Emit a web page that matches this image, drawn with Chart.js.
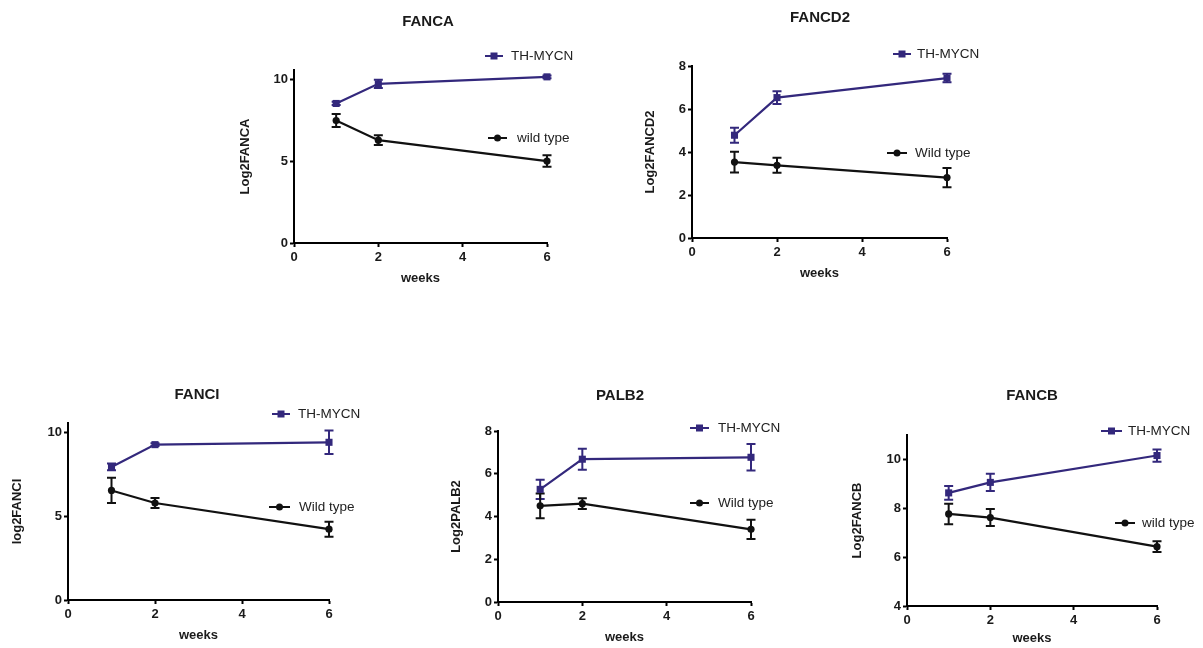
<!DOCTYPE html>
<html>
<head>
<meta charset="utf-8">
<script src="https://cdn.jsdelivr.net/npm/chart.js@4/dist/chart.umd.min.js"></script>
<style>
  body { margin: 0; background: #fff; width: 1203px; height: 648px; overflow: hidden; position: relative; }
  canvas { position: absolute; }
</style>
</head>
<body>
<script>
// data
const weeks = [1, 2, 6];

const fancaMycn = [8.55, 9.75, 10.18];
const fancaMycnErr = [0.1, 0.25, 0.08];
const fancaWild = [7.5, 6.3, 5.02];
const fancaWildErr = [0.4, 0.3, 0.35];

const fancd2Mycn = [4.78, 6.53, 7.44];
const fancd2MycnErr = [0.35, 0.3, 0.2];
const fancd2Wild = [3.53, 3.38, 2.81];
const fancd2WildErr = [0.48, 0.35, 0.45];

const fanciMycn = [7.93, 9.26, 9.4];
const fanciMycnErr = [0.2, 0.08, 0.7];
const fanciWild = [6.53, 5.78, 4.22];
const fanciWildErr = [0.75, 0.3, 0.45];

const palb2Mycn = [5.27, 6.68, 6.77];
const palb2MycnErr = [0.45, 0.49, 0.62];
const palb2Wild = [4.5, 4.6, 3.4];
const palb2WildErr = [0.58, 0.25, 0.45];

const fancbMycn = [8.63, 9.06, 10.16];
const fancbMycnErr = [0.28, 0.35, 0.25];
const fancbWild = [7.77, 7.62, 6.43];
const fancbWildErr = [0.42, 0.35, 0.22];

const xTicks = [0, 2, 4, 6];

const MYCN = '#33287c';
const BLACK = '#111111';
const FONT = 'Arial, "Liberation Sans", sans-serif';

// panel layout (page pixels): plot rect, title, legends
const panels = [
  { title: 'FANCA', ylabel: 'Log2FANCA', wildLabel: 'wild type',
    mycn: fancaMycn, mycnErr: fancaMycnErr, wild: fancaWild, wildErr: fancaWildErr,
    ymin: 0, ymax: 10.6, ystep: 5,
    l: 294, r: 547, t: 70, b: 243, yOff: 49, xOff: 35,
    titleX: 428, titleY: 22,
    legMycn: [485, 503, 511, 56], legWild: [488, 507, 517, 138] },
  { title: 'FANCD2', ylabel: 'Log2FANCD2', wildLabel: 'Wild type',
    mycn: fancd2Mycn, mycnErr: fancd2MycnErr, wild: fancd2Wild, wildErr: fancd2WildErr,
    ymin: 0, ymax: 8, ystep: 2,
    l: 692, r: 947, t: 66, b: 238, yOff: 42, xOff: 35,
    titleX: 820, titleY: 18,
    legMycn: [893, 911, 917, 54], legWild: [887, 907, 915, 153] },
  { title: 'FANCI', ylabel: 'log2FANCI', wildLabel: 'Wild type',
    mycn: fanciMycn, mycnErr: fanciMycnErr, wild: fanciWild, wildErr: fanciWildErr,
    ymin: 0, ymax: 10.55, ystep: 5,
    l: 68, r: 329, t: 423, b: 600, yOff: 51, xOff: 35,
    titleX: 197, titleY: 395,
    legMycn: [272, 290, 298, 414], legWild: [269, 290, 299, 507] },
  { title: 'PALB2', ylabel: 'Log2PALB2', wildLabel: 'Wild type',
    mycn: palb2Mycn, mycnErr: palb2MycnErr, wild: palb2Wild, wildErr: palb2WildErr,
    ymin: 0, ymax: 8, ystep: 2,
    l: 498, r: 751, t: 431, b: 602, yOff: 41.5, xOff: 35,
    titleX: 620, titleY: 396,
    legMycn: [690, 709, 718, 428], legWild: [690, 709, 718, 503] },
  { title: 'FANCB', ylabel: 'Log2FANCB', wildLabel: 'wild type',
    mycn: fancbMycn, mycnErr: fancbMycnErr, wild: fancbWild, wildErr: fancbWildErr,
    ymin: 4, ymax: 11, ystep: 2,
    l: 907, r: 1157, t: 435, b: 606, yOff: 50, xOff: 32,
    titleX: 1032, titleY: 396,
    legMycn: [1101, 1122, 1128, 431], legWild: [1115, 1135, 1142, 523] }
];

function drawMarker(ctx, style, x, y, color) {
  ctx.fillStyle = color;
  if (style === 'rect') {
    ctx.fillRect(x - 3.5, y - 3.5, 7, 7);
  } else {
    ctx.beginPath();
    ctx.arc(x, y, 3.5, 0, Math.PI * 2);
    ctx.fill();
  }
}

// error bars, titles and legends
const extras = {
  id: 'extras',
  beforeDatasetsDraw(chart) {
    const ctx = chart.ctx;
    const xs = chart.scales.x, ys = chart.scales.y;
    ctx.save();
    chart.data.datasets.forEach(ds => {
      ctx.strokeStyle = ds.borderColor;
      ctx.lineWidth = 2;
      ds.data.forEach((p, i) => {
        const e = ds.errors[i];
        const px = xs.getPixelForValue(p.x);
        const y1 = ys.getPixelForValue(p.y - e);
        const y2 = ys.getPixelForValue(p.y + e);
        ctx.beginPath();
        ctx.moveTo(px, y1); ctx.lineTo(px, y2);
        ctx.moveTo(px - 4.5, y1); ctx.lineTo(px + 4.5, y1);
        ctx.moveTo(px - 4.5, y2); ctx.lineTo(px + 4.5, y2);
        ctx.stroke();
      });
    });
    ctx.restore();
  },
  afterDraw(chart) {
    const o = chart.options.plugins.extras;
    const ctx = chart.ctx;
    ctx.save();
    ctx.fillStyle = '#1a1a1a';
    ctx.font = 'bold 15px ' + FONT;
    ctx.textAlign = 'center';
    ctx.textBaseline = 'middle';
    ctx.fillText(o.title, o.titleX - o.cx, o.titleY - o.cy);
    o.legends.forEach(lg => {
      const [x1, x2, tx, y] = lg.pos;
      ctx.strokeStyle = lg.color;
      ctx.lineWidth = 2;
      ctx.beginPath();
      ctx.moveTo(x1 - o.cx, y - o.cy);
      ctx.lineTo(x2 - o.cx, y - o.cy);
      ctx.stroke();
      drawMarker(ctx, lg.style, (x1 + x2) / 2 - o.cx, y - o.cy, lg.color);
      ctx.fillStyle = '#222';
      ctx.font = '13.5px ' + FONT;
      ctx.textAlign = 'left';
      ctx.fillText(lg.label, tx - o.cx, y - o.cy);
    });
    ctx.restore();
  }
};

panels.forEach(p => {
  const YW = p.yOff + 7.8;
  const XH = p.xOff + 7.8;
  const cx = p.l - 75;
  const cy = Math.max(0, p.t - 75);
  const cr = Math.min(1203, p.r + 90);
  const cb = Math.min(648, p.b + 48);

  const canvas = document.createElement('canvas');
  canvas.width = cr - cx;
  canvas.height = cb - cy;
  canvas.style.left = cx + 'px';
  canvas.style.top = cy + 'px';
  document.body.appendChild(canvas);

  const pts = vals => weeks.map((w, i) => ({ x: w, y: vals[i] }));

  const axisCommon = {
    border: { display: true, color: '#000', width: 2 },
    grid: { display: true, drawOnChartArea: false, drawTicks: true, tickLength: 4, tickWidth: 2, tickColor: '#000', color: '#000' },
  };

  new Chart(canvas, {
    type: 'line',
    data: {
      datasets: [
        { label: 'TH-MYCN', data: pts(p.mycn), errors: p.mycnErr, clip: false,
          borderColor: MYCN, backgroundColor: MYCN, borderWidth: 2.2,
          pointStyle: 'rect', pointRadius: 5, pointBorderWidth: 0, tension: 0 },
        { label: p.wildLabel, data: pts(p.wild), errors: p.wildErr, clip: false,
          borderColor: BLACK, backgroundColor: BLACK, borderWidth: 2.2,
          pointStyle: 'circle', pointRadius: 3.6, pointBorderWidth: 0, tension: 0 }
      ]
    },
    options: {
      responsive: false,
      animation: false,
      devicePixelRatio: 1,
      layout: {
        padding: { left: p.l - cx - YW, top: p.t - cy, right: cr - p.r, bottom: cb - p.b - XH }
      },
      plugins: {
        legend: { display: false },
        title: { display: false },
        tooltip: { enabled: false },
        extras: {
          cx, cy, title: p.title, titleX: p.titleX, titleY: p.titleY,
          legends: [
            { label: 'TH-MYCN', color: MYCN, style: 'rect', pos: p.legMycn },
            { label: p.wildLabel, color: BLACK, style: 'circle', pos: p.legWild }
          ]
        }
      },
      scales: {
        x: {
          type: 'linear', min: 0, max: 6,
          ...axisCommon,
          afterFit: s => { s.height = XH; },
          afterBuildTicks: s => { s.ticks = xTicks.map(v => ({ value: v })); },
          ticks: { padding: 3, color: '#1a1a1a', font: { family: FONT, size: 13, weight: 'bold' } },
          title: { display: true, text: 'weeks', color: '#1a1a1a', padding: 0,
                   font: { family: FONT, size: 13, weight: 'bold' } }
        },
        y: {
          type: 'linear', min: p.ymin, max: p.ymax,
          ...axisCommon,
          afterFit: s => { s.width = YW; },
          ticks: { stepSize: p.ystep, includeBounds: false, padding: 2, color: '#1a1a1a',
                   font: { family: FONT, size: 13, weight: 'bold' } },
          title: { display: true, text: p.ylabel, color: '#1a1a1a', padding: 0,
                   font: { family: FONT, size: 13, weight: 'bold' } }
        }
      }
    },
    plugins: [extras]
  });
});
</script>
</body>
</html>
